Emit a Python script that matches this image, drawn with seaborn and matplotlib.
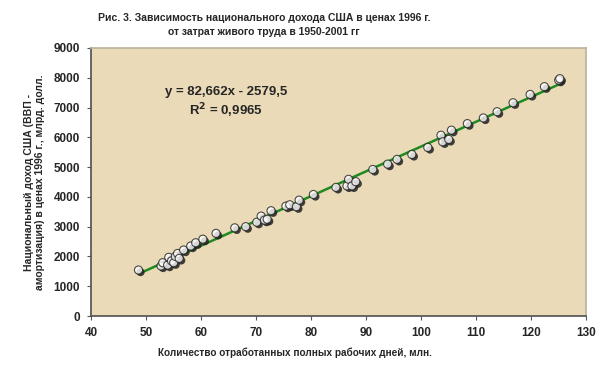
import numpy as np
import pandas as pd
import matplotlib.pyplot as plt
import matplotlib.patheffects as pe
import seaborn as sns

# labour input, mln full working days  /  national income, bln 1996 USD
days = [48.6, 52.7, 53.0, 53.9, 54.1, 54.6, 55.0, 55.3, 55.7, 56.0, 56.8, 58.1,
        59.0, 60.3, 62.7, 66.1, 68.1, 70.1, 70.9, 71.5, 72.0, 72.7, 75.4, 76.1,
        77.3, 77.8, 80.4, 84.5, 86.5, 86.8, 87.4, 88.1, 91.2, 93.9, 95.6, 98.3,
        101.2, 103.6, 103.9, 105.0, 105.5, 108.4, 111.3, 113.8, 116.7, 119.8,
        122.4, 125.0, 125.2]
income = [1544, 1680, 1790, 1710, 1970, 1850, 1790, 2000, 2100, 1935, 2215, 2350,
          2460, 2580, 2775, 2960, 3000, 3150, 3355, 3220, 3250, 3535, 3690, 3735,
          3670, 3890, 4080, 4320, 4370, 4590, 4370, 4510, 4920, 5100, 5260, 5425,
          5660, 6070, 5850, 5930, 6240, 6460, 6650, 6860, 7160, 7440,
          7700, 7920, 7970]

df = pd.DataFrame({"days": days, "income": income})

sns.set_theme(style="ticks")
plt.rcParams["font.family"] = ["Liberation Sans", "DejaVu Sans"]
plt.rcParams["font.weight"] = "bold"

fig = plt.figure(figsize=(6, 3.72), dpi=100)
ax = fig.add_axes([0.152, 0.1505, 0.825, 0.7205])
ax.set_facecolor("#EADAB7")

sns.regplot(data=df, x="days", y="income", ci=None, ax=ax, truncate=True,
            scatter_kws=dict(s=34, color="white", edgecolor="#222222",
                             linewidths=0.8, zorder=3,
                             path_effects=[pe.SimplePatchShadow(offset=(1.5, -1.5),
                                                                shadow_rgbFace="#222222",
                                                                alpha=0.85),
                                           pe.Normal()]),
            line_kws=dict(color="#1F8A1F", lw=1.8, zorder=2))

ax.set_xlim(40, 130)
ax.set_ylim(0, 9000)
ax.set_xticks(range(40, 131, 10))
ax.set_yticks(range(0, 9001, 1000))
ax.tick_params(labelsize=8.5, length=3, width=0.8, color="#555555", pad=5)
for lab in ax.get_xticklabels() + ax.get_yticklabels():
    lab.set_fontweight("bold")
for s in ["left", "bottom"]:
    ax.spines[s].set_color("#555555")
for s in ["top", "right"]:
    ax.spines[s].set_visible(True)
    ax.spines[s].set_color("#BBB3A0")

ax.set_xlabel("")
ax.set_ylabel("Национальный доход США (ВВП -\nамортизация) в ценах 1996 г., млрд. долл.",
              fontsize=7.5, fontweight="bold", labelpad=6)
fig.text(295 / 600, 1 - 353 / 372,
         "Количество отработанных полных рабочих дней, млн.",
         ha="center", va="center", fontsize=7.2, fontweight="bold")

ax.text(64.5, 7517, "y = 82,662x - 2579,5", ha="center", va="center",
        fontsize=9.5, fontweight="bold")
ax.text(64.5, 6880, "R$^2$ = 0,9965", ha="center", va="center",
        fontsize=9.5, fontweight="bold")

fig.text(0.44, 0.965, "Рис. 3. Зависимость национального дохода США в ценах 1996 г.\n"
         "от затрат живого труда в 1950-2001 гг", ha="center", va="top",
         fontsize=7.5, fontweight="bold", linespacing=1.5)

fig.savefig("out.png", dpi=100)
